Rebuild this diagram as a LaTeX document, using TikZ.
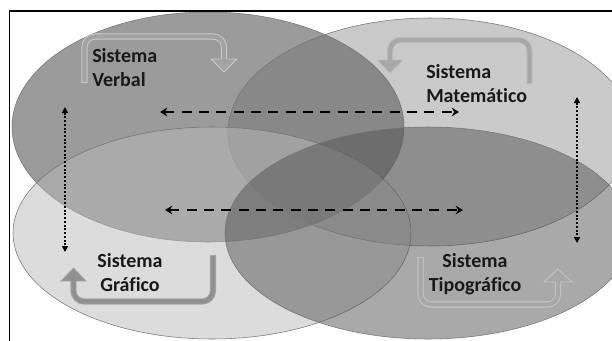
\documentclass[tikz,border=0pt]{standalone}
\usepackage{fontspec}
\setmainfont{Carlito}[Ligatures={NoCommon}]
\usepackage{tikz}
\usetikzlibrary{arrows.meta,positioning}

\tikzset{
  venn/.style={draw=black!55, line width=0.4pt, fill opacity=0.5},
  systext/.style={font=\bfseries\fontsize{15pt}{18pt}\selectfont, text=black!90, inner sep=0pt},
  dasharrow/.style={line width=2.1pt, dash pattern=on 7.5pt off 5.5pt, {Stealth[length=5.5pt,width=6.5pt,inset=2pt]}-{Stealth[length=5.5pt,width=6.5pt,inset=2pt]}},
  dotarrow/.style={line width=1.9pt, dash pattern=on 1.5pt off 1.3pt, {Triangle[length=4.5pt,width=4.5pt]}-{Triangle[length=4.5pt,width=4.5pt]}},
  bendrim/.style={line width=4.6pt, rounded corners=8pt},
  bendcore/.style={line width=3.2pt, rounded corners=8pt, shorten <=0.7pt},
}

\begin{document}
\begin{tikzpicture}[x=0.75pt,y=0.75pt,yscale=-1,xscale=1]
\useasboundingbox (0,0) rectangle (612,340);
\clip (0,0) rectangle (612,340);

%Shape: Ellipse [Sistema Verbal]
\draw[venn, fill=black!78] (12,127) .. controls (12,63.49) and (99.75,12) .. (208,12) .. controls (316.25,12) and (404,63.49) .. (404,127) .. controls (404,190.51) and (316.25,242) .. (208,242) .. controls (99.75,242) and (12,190.51) .. (12,127) -- cycle ;
%Shape: Ellipse [Sistema Matematico]
\draw[venn, fill=black!60, fill opacity=0.35] (228,132) .. controls (228,69.04) and (318.44,18) .. (430,18) .. controls (541.56,18) and (632,69.04) .. (632,132) .. controls (632,194.96) and (541.56,246) .. (430,246) .. controls (318.44,246) and (228,194.96) .. (228,132) -- cycle ;
%Shape: Ellipse [Sistema Grafico]
\draw[venn, fill=black!27] (13,233) .. controls (13,174.46) and (102.09,127) .. (212,127) .. controls (321.91,127) and (411,174.46) .. (411,233) .. controls (411,291.54) and (321.91,339) .. (212,339) .. controls (102.09,339) and (13,291.54) .. (13,233) -- cycle ;
%Shape: Ellipse [Sistema Tipografico]
\draw[venn, fill=black!67] (225,233) .. controls (225,174.46) and (315.88,127) .. (428,127) .. controls (540.12,127) and (631,174.46) .. (631,233) .. controls (631,291.54) and (540.12,339) .. (428,339) .. controls (315.88,339) and (225,291.54) .. (225,233) -- cycle ;

%Bent arrow (verbal)
\draw[bendrim, black!20] (84.5,83) -- (84.5,36.5) -- (224,36.5) -- (224,60) ;
\draw[bendcore, black!36] (84.5,83) -- (84.5,36.5) -- (224,36.5) -- (224,60) ;
\fill[black!36] (211,59) -- (224,72) -- (237,59) -- cycle ;
\draw[black!20, line width=0.6pt] (221,59) -- (211,59) -- (224,72) -- (237,59) -- (227,59) ;
%Bent arrow (matematico)
\draw[bendrim, black!26] (529.5,84) -- (529.5,40) -- (390,40) -- (390,61) ;
\draw[bendcore, black!34] (529.5,84) -- (529.5,40) -- (390,40) -- (390,61) ;
\fill[black!34] (377,60) -- (390,73) -- (403,60) -- cycle ;
\draw[black!26, line width=0.6pt] (387,60) -- (377,60) -- (390,73) -- (403,60) -- (393,60) ;
%Bent arrow (grafico)
\draw[bendrim, black!35] (213,255) -- (213,301.5) -- (73.5,301.5) -- (73.5,280) ;
\draw[bendcore, black!43] (213,255) -- (213,301.5) -- (73.5,301.5) -- (73.5,280) ;
\fill[black!43] (61,281) -- (73.5,268) -- (86,281) -- cycle ;
\draw[black!35, line width=0.6pt] (70.5,281) -- (61,281) -- (73.5,268) -- (86,281) -- (76.5,281) ;
%Bent arrow (tipografico)
\draw[bendrim, black!22] (420.5,257) -- (420.5,304.5) -- (558,304.5) -- (558,281) ;
\draw[bendcore, black!34] (420.5,257) -- (420.5,304.5) -- (558,304.5) -- (558,281) ;
\fill[black!34] (544,282) -- (558,269) -- (572,282) -- cycle ;
\draw[black!22, line width=0.6pt] (555,282) -- (544,282) -- (558,269) -- (572,282) -- (561,282) ;

% Arrow ends
\coordinate (topL) at (160,112);
\coordinate (topR) at (459,112);
\coordinate (botL) at (165,210);
\coordinate (botR) at (463,210);
\coordinate (leftU) at (65,107);
\coordinate (leftD) at (65,252);
\coordinate (rightU) at (577,97);
\coordinate (rightD) at (577,243);

\draw[dasharrow] (topL) -- (topR);
\draw[dasharrow] (botL) -- (botR);
\draw[dotarrow] (leftU) -- (leftD);
\draw[dotarrow] (rightU) -- (rightD);

% Text Node
\node[systext, align=left, anchor=west] (verbal) at (92,68) {Sistema\\Verbal};
% Text Node
\node[systext, align=left, anchor=west] (matematico) at (426,84) {Sistema\\Matemático};
% Text Node
\node[systext, align=center] (grafico) at (130,273) {Sistema\\Gráfico};
% Text Node
\node[systext, align=center] (tipografico) at (475,274) {Sistema\\Tipográfico};

%Frame
\draw[line width=1.2pt] (9.5,345) -- (9.5,11) -- (620,11);

\end{tikzpicture}
\end{document}
